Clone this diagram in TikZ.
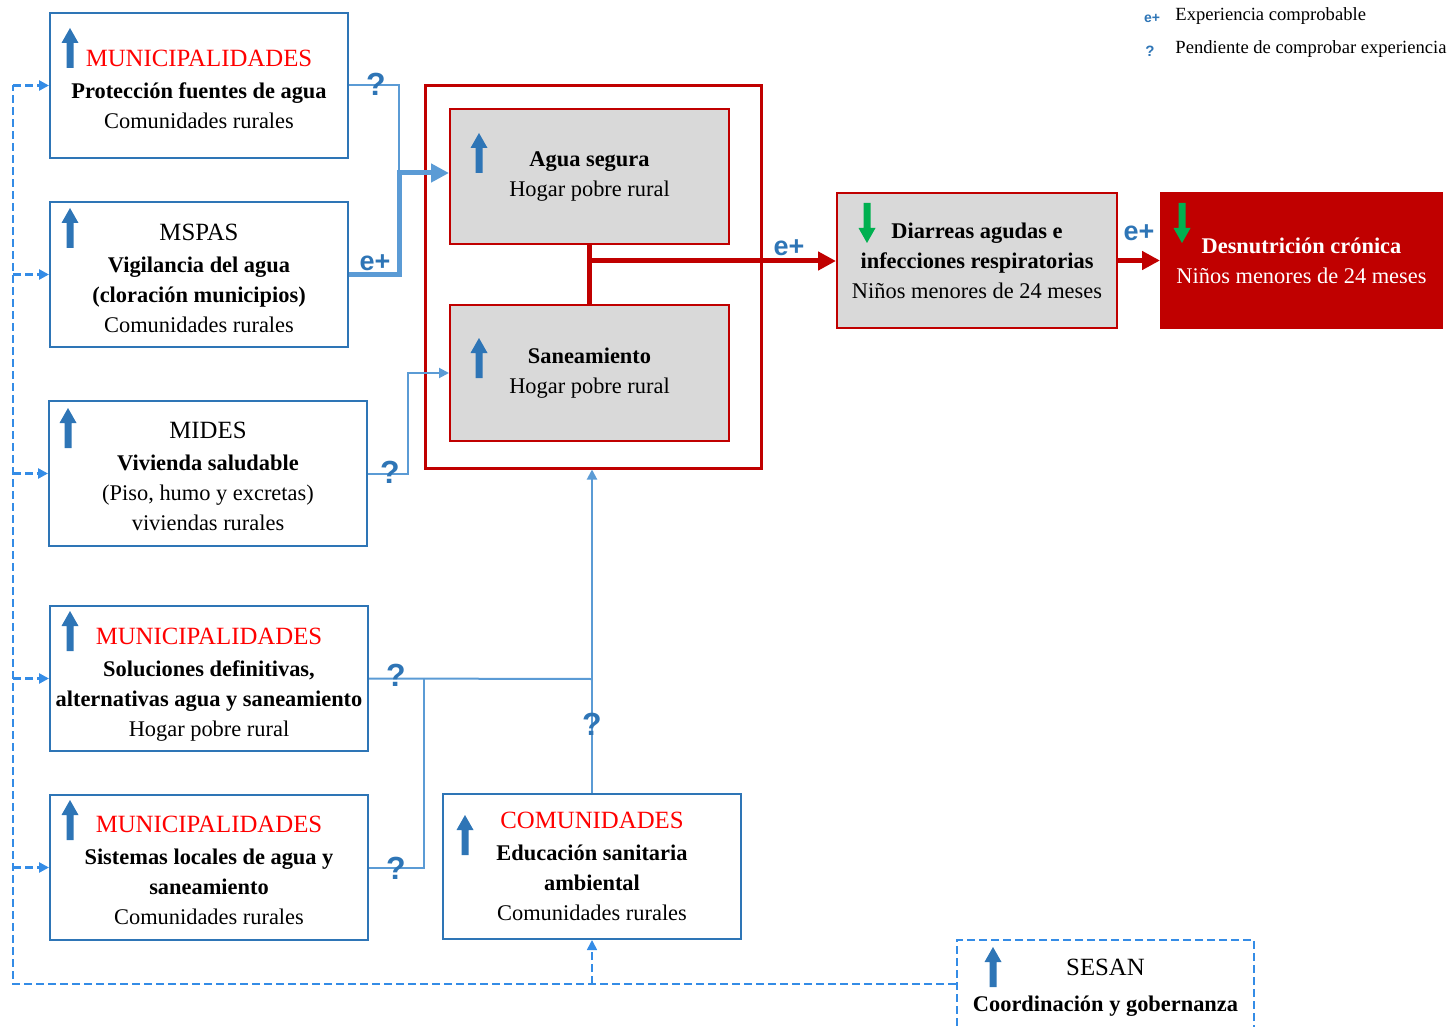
\documentclass[tikz,border=0pt]{standalone}
\usepackage{fontspec}
\setmainfont{Liberation Serif}
\newfontfamily\iconfont{Liberation Sans}
\usetikzlibrary{arrows.meta}
\definecolor{boxblue}{RGB}{46,117,182}
\definecolor{linkblue}{RGB}{91,155,213}
\definecolor{dashblue}{RGB}{52,140,230}
\definecolor{dred}{RGB}{192,0,0}
\definecolor{tred}{RGB}{255,0,0}
\definecolor{greyfill}{RGB}{217,217,217}
\definecolor{agreen}{RGB}{0,176,80}
\newcommand\hd[1]{{\fontsize{12.4}{16}\selectfont #1}}
\newcommand\rd[1]{{\color{tred}\fontsize{12.4}{16}\selectfont #1}}
\newcommand\upicon[2]{\fill[boxblue] (#1-3.5,#2+40) -- (#1-3.5,#2+15) -- (#1-8.5,#2+15) -- (#1,#2) -- (#1+8.5,#2+15) -- (#1+3.5,#2+15) -- (#1+3.5,#2+40) -- cycle;}
\newcommand\downicon[2]{\fill[agreen] (#1-3.5,#2) -- (#1-3.5,#2+25) -- (#1-8.5,#2+25) -- (#1,#2+40) -- (#1+8.5,#2+25) -- (#1+3.5,#2+25) -- (#1+3.5,#2) -- cycle;}
\tikzset{
  body/.style={font=\fontsize{11.2}{15}\selectfont},
  orgbox/.style={draw=boxblue, line width=1pt, inner sep=0pt, minimum height=72.5pt},
  boxtext/.style={align=center, inner sep=0pt, body},
  greybox/.style={draw=dred, line width=1pt, fill=greyfill, align=center, inner sep=0pt, body, minimum width=139.5pt, minimum height=67.5pt},
  link/.style={draw=linkblue, line width=1pt},
  thicklink/.style={draw=linkblue, line width=2.5pt},
  redline/.style={draw=dred, line width=2.5pt},
  dashline/.style={draw=dashblue, line width=1.4pt, dash pattern=on 4pt off 2pt},
  qmark/.style={text=boxblue, font=\iconfont\bfseries\fontsize{16}{16}\selectfont, inner sep=0pt},
  eplus/.style={text=boxblue, font=\iconfont\bfseries\fontsize{13.5}{13.5}\selectfont, inner sep=0pt},
  legtext/.style={font=\fontsize{9.3}{11}\selectfont, anchor=west, inner sep=0pt},
}
\begin{document}
\begin{tikzpicture}[x=0.5pt,y=-0.5pt]
\useasboundingbox (0,0) rectangle (1451,1027);

% legend
\node[eplus, font=\iconfont\bfseries\fontsize{7}{7}\selectfont] (lege) at (1152,18) {e+};
\node[legtext] (legt1) at (1175,16) {Experiencia comprobable};
\node[qmark, font=\iconfont\bfseries\fontsize{7.5}{7.5}\selectfont] (legq) at (1150,51) {?};
\node[legtext] (legt2) at (1175,49) {Pendiente de comprobar experiencia};

% left organisation boxes
\node[orgbox, minimum width=149pt] (m1) at (199,85.5) {};
\node[boxtext, yshift=-2pt] (m1t) at (m1) {\rd{MUNICIPALIDADES}\\[1pt] \textbf{Protección fuentes de agua}\\ Comunidades rurales};
\node[orgbox, minimum width=149pt] (mspas) at (199,274.5) {};
\node[boxtext, yshift=-2pt] (mspast) at (mspas) {\hd{MSPAS}\\[1pt] \textbf{Vigilancia del agua}\\ \textbf{(cloración municipios)}\\ Comunidades rurales};
\node[orgbox, minimum width=159pt] (mides) at (208,473.5) {};
\node[boxtext, yshift=-1.5pt] (midest) at (mides) {\hd{MIDES}\\[1pt] \textbf{Vivienda saludable}\\ (Piso, humo y excretas)\\ viviendas rurales};
\node[orgbox, minimum width=159pt] (m2) at (209,678.5) {};
\node[boxtext, yshift=-3pt] (m2t) at (m2) {\rd{MUNICIPALIDADES}\\[1pt] \textbf{Soluciones definitivas,}\\ \textbf{alternativas agua y saneamiento}\\ Hogar pobre rural};
\node[orgbox, minimum width=159pt] (m3) at (209,867.5) {};
\node[boxtext, yshift=-1.5pt] (m3t) at (m3) {\rd{MUNICIPALIDADES}\\[1pt] \textbf{Sistemas locales de agua y}\\ \textbf{saneamiento}\\ Comunidades rurales};
\node[orgbox, minimum width=149pt] (com) at (592,866.5) {};
\node[boxtext] (comt) at (com) {\rd{COMUNIDADES}\\[1pt] \textbf{Educación sanitaria}\\ \textbf{ambiental}\\ Comunidades rurales};

% central red frame
\node[draw=dred, line width=1.5pt, minimum width=168pt, minimum height=191pt, inner sep=0pt] (outer) at (593,277) {};
\node[greybox] (agua) at (589.5,176.5) {\textbf{Agua segura}\\ Hogar pobre rural};
\node[greybox] (san) at (589.5,373) {\textbf{Saneamiento}\\ Hogar pobre rural};

% outcomes
\node[greybox, minimum width=140pt] (dia) at (977,260.5) {\textbf{Diarreas agudas e}\\ \textbf{infecciones respiratorias}\\ Niños menores de 24 meses};
\node[draw=dred, fill=dred, line width=1pt, text=white, align=center, inner sep=0pt, body, minimum width=140.5pt, minimum height=67.5pt] (des) at (1301.5,260.5) {\textbf{Desnutrición crónica}\\ Niños menores de 24 meses};

% SESAN
\node[draw=dashblue, line width=1.2pt, dash pattern=on 4pt off 2pt, inner sep=0pt, minimum width=148.5pt, minimum height=48pt] (sesan) at (1105.5,988) {};
\node[boxtext] (sesant) at (sesan) {\hd{SESAN}\\[3pt] \textbf{Coordinación y gobernanza}};

% icons
\upicon{70}{28}
\upicon{70}{208}
\upicon{68}{408}
\upicon{70}{611}
\upicon{70}{800}
\upicon{465}{815}
\upicon{479}{133}
\upicon{479}{338}
\upicon{993}{947}
\downicon{867}{203}
\downicon{1182}{203}

% blue connectors
\coordinate (j1) at (399,173);
\coordinate (j2) at (408,373);
\coordinate (j3) at (592,679);
\coordinate (j4) at (424,679);
\draw[link] (m1.east) -| (j1);
\draw[thicklink, -{Triangle[length=9pt,width=9pt]}] (mspas.east) -| (j1) -- (agua.west |- j1);
\draw[link, -{Triangle[length=5pt,width=5pt]}] (mides.east) -| (j2) -- (san.west |- j2);
\draw[link] (m2.east) -- (j3);
\draw[link] (m3.east) -| (j4);
\draw[link, -{Triangle[length=5pt,width=5pt]}] (com.north) -- (com.north |- outer.south);

% red connectors
\coordinate (r1) at (589,261);
\draw[redline] (agua.south) -- (san.north);
\draw[redline, -{Triangle[length=9pt,width=9pt]}] (r1) -- (dia.west |- r1);
\draw[redline, -{Triangle[length=9pt,width=9pt]}] (dia.east) -- (des.west);

% dashed coordination lines
\coordinate (d0) at (13,984);
\draw[dashline] (sesan.west |- d0) -- (d0) -- (d0 |- m1.west);
\foreach \b in {m1,mspas,mides,m2,m3}{
  \draw[dashline, -{Triangle[length=5pt,width=5pt]}] (\b.west -| d0) -- (\b.west);
}
\draw[dashline, line width=0.8pt, -{Triangle[length=5pt,width=5pt]}] (com.south |- d0) -- (com.south);

% labels
\node[qmark] (q1) at (376,84) {?};
\node[eplus] (e1) at (375,263) {e+};
\node[qmark] (q2) at (390,472) {?};
\node[qmark] (q3) at (396,675) {?};
\node[qmark] (q4) at (396,868) {?};
\node[qmark] (q5) at (592,724) {?};
\node[eplus] (e2) at (789,248) {e+};
\node[eplus] (e3) at (1139,233) {e+};
\end{tikzpicture}
\end{document}
